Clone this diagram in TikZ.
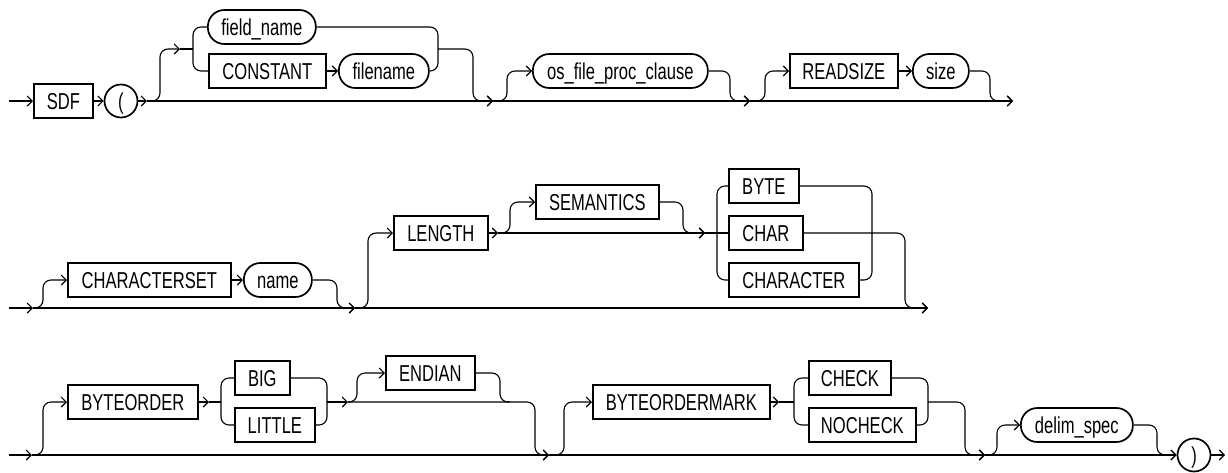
\documentclass[tikz,border=0pt]{standalone}
\usepackage{fontspec}
\setmainfont{Liberation Sans}[FakeStretch=0.72]
\usetikzlibrary{arrows.meta}
\newcommand{\rrfont}{\fontsize{23}{23}\selectfont}
\begin{document}
\begin{tikzpicture}[x=1pt,y=-1pt,
  kw/.style={draw, line width=1.7pt, rectangle, minimum height=34pt, inner sep=0pt,
             anchor=west, font=\rrfont, text height=16.4pt, text depth=0pt},
  nt/.style={kw, rounded corners=16.5pt},
  circ/.style={draw, line width=1.7pt, circle, minimum size=33pt, inner sep=0pt,
             anchor=center, font=\rrfont, text height=16.4pt, text depth=0pt},
  ln/.style={line width=1.1pt, rounded corners=8pt},
  arr/.style={ln, -{Straight Barb[length=5pt,width=10pt,line width=1.1pt]}}]
\useasboundingbox (0,0) rectangle (1228,472);

% ---------- row 1 ----------
\coordinate (r1s) at (9,101);
\node[kw, minimum width=59pt] (sdf) at (33,101) {SDF};
\node[circ] (lp) at (121,101) {(};
\coordinate (r1a) at (147,101);
\node[nt, minimum width=108pt] (fieldname) at (207,27) {field\_name};
\node[kw, minimum width=117pt] (constant) at (208,71) {CONSTANT};
\node[nt, minimum width=90pt] (filename) at (338,71) {filename};
\coordinate (g1in) at (180,49);
\coordinate (r1b) at (493,101);
\node[nt, minimum width=175pt] (osfile) at (532,71) {os\_file\_proc\_clause};
\coordinate (r1c) at (750,101);
\node[kw, minimum width=108pt] (readsize) at (789,71) {READSIZE};
\node[nt, minimum width=56pt] (size) at (912,71) {size};
\coordinate (r1e) at (1013,101);

\draw[arr] (r1s) -- (sdf.west);
\draw[arr] (sdf.east) -- (lp.west);
\draw[arr] (lp.east) -- (r1a);
\draw[arr] (r1a) -- (r1b);
\draw[arr] (r1a) -- (160,101) -- (160,49) -- (g1in);
\draw[ln] (g1in) -- (193,49);
\draw[ln] (fieldname.west) -- (193,27) -- (193,71) -- (constant.west);
\draw[arr] (constant.east) -- (filename.west);
\draw[ln] (fieldname.east) -- (438,27) -- (438,71) -- (filename.east);
\draw[arr] (438,49) -- (473,49) -- (473,101) -- (r1b);
\draw[arr] (r1b) -- (507,101) -- (507,71) -- (osfile.west);
\draw[arr] (osfile.east) -- (730,71) -- (730,101) -- (r1c);
\draw[arr] (r1b) -- (r1c);
\draw[arr] (r1c) -- (765,101) -- (765,71) -- (readsize.west);
\draw[arr] (readsize.east) -- (size.west);
\draw[arr] (size.east) -- (990,71) -- (990,101) -- (r1e);
\draw[arr] (r1c) -- (r1e);

% ---------- row 2 ----------
\coordinate (r2s) at (9,308);
\coordinate (r2a) at (33,308);
\node[kw, minimum width=163pt] (charset) at (67,280) {CHARACTERSET};
\node[nt, minimum width=68pt] (name) at (243,280) {name};
\coordinate (r2b) at (355,308);
\node[kw, minimum width=94pt] (length) at (393,233) {LENGTH};
\coordinate (r2c) at (498,233);
\node[kw, minimum width=123pt] (semantics) at (535,202) {SEMANTICS};
\coordinate (r2d) at (705,233);
\node[kw, minimum width=70pt] (byte) at (728,186) {BYTE};
\node[kw, minimum width=74pt] (char) at (728,233) {CHAR};
\node[kw, minimum width=130pt] (character) at (728,280) {CHARACTER};
\coordinate (r2e) at (928,308);

\draw[arr] (r2s) -- (r2a);
\draw[arr] (r2a) -- (43,308) -- (43,280) -- (charset.west);
\draw[arr] (charset.east) -- (name.west);
\draw[arr] (name.east) -- (337,280) -- (337,308) -- (r2b);
\draw[arr] (r2a) -- (r2b);
\draw[arr] (r2b) -- (368,308) -- (368,233) -- (length.west);
\draw[arr] (length.east) -- (r2c);
\draw[arr] (r2c) -- (510,233) -- (510,202) -- (semantics.west);
\draw[arr] (semantics.east) -- (683,202) -- (683,233) -- (r2d);
\draw[arr] (r2c) -- (r2d);
\draw[ln] (r2d) -- (char.west);
\draw[ln] (byte.west) -- (717,186) -- (717,280) -- (character.west);
\draw[ln] (byte.east) -- (872,186) -- (872,280) -- (character.east);
\draw[arr] (char.east) -- (905,233) -- (905,308) -- (r2e);
\draw[arr] (r2b) -- (r2e);

% ---------- row 3 ----------
\coordinate (r3s) at (9,455);
\coordinate (r3a) at (32,455);
\node[kw, minimum width=130pt] (byteorder) at (67,402) {BYTEORDER};
\coordinate (r3b) at (209,402);
\node[kw, minimum width=55pt] (big) at (234,378) {BIG};
\node[kw, minimum width=80pt] (little) at (234,425) {LITTLE};
\coordinate (r3c) at (348,402);
\node[kw, minimum width=89pt] (endian) at (385,373) {ENDIAN};
\coordinate (r3d) at (549,455);
\node[kw, minimum width=177pt] (bom) at (592,402) {BYTEORDERMARK};
\coordinate (r3e) at (779,402);
\node[kw, minimum width=82pt] (check) at (808,378) {CHECK};
\node[kw, minimum width=107pt] (nocheck) at (808,425) {NOCHECK};
\coordinate (r3f) at (985,455);
\node[nt, minimum width=112pt] (delim) at (1020,425) {delim\_spec};
\node[circ] (rp) at (1194,455) {)};
\coordinate (r3g) at (1225,455);

\draw[arr] (r3s) -- (r3a);
\draw[arr] (r3a) -- (43,455) -- (43,402) -- (byteorder.west);
\draw[arr] (byteorder.east) -- (r3b);
\draw[ln] (r3b) -- (221,402);
\draw[ln] (big.west) -- (221,378) -- (221,425) -- (little.west);
\draw[ln] (big.east) -- (327,378) -- (327,425) -- (little.east);
\draw[arr] (327,402) -- (r3c);
\draw[arr] (r3c) -- (357,402) -- (357,373) -- (endian.west);
\draw[ln] (endian.east) -- (500,373) -- (500,402) -- (510,402);
\draw[arr] (r3c) -- (535,402) -- (535,455) -- (r3d);
\draw[arr] (r3a) -- (r3d);
\draw[arr] (r3d) -- (564,455) -- (564,402) -- (bom.west);
\draw[arr] (bom.east) -- (r3e);
\draw[ln] (r3e) -- (794,402);
\draw[ln] (check.west) -- (794,378) -- (794,425) -- (nocheck.west);
\draw[ln] (check.east) -- (928,378) -- (928,425) -- (nocheck.east);
\draw[arr] (928,402) -- (965,402) -- (965,455) -- (r3f);
\draw[arr] (r3d) -- (r3f);
\draw[arr] (r3f) -- (997,455) -- (997,425) -- (delim.west);
\draw[arr] (delim.east) -- (1157,425) -- (1157,455) -- (rp.west);
\draw[arr] (r3f) -- (rp.west);
\draw[arr] (rp.east) -- (r3g);
\end{tikzpicture}
\end{document}
